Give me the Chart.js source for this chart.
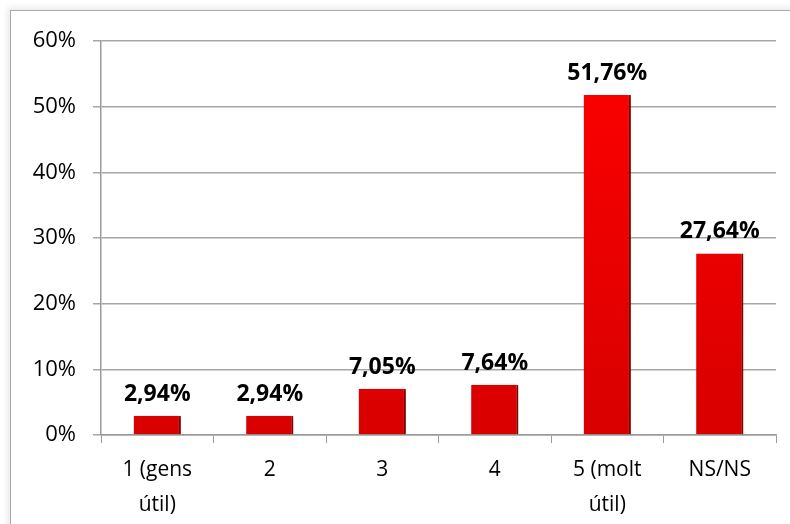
<!DOCTYPE html>
<html>
<head>
<meta charset="utf-8">
<script src="https://cdn.jsdelivr.net/npm/chart.js@4.4.1/dist/chart.umd.min.js"></script>
<style>
  html, body { margin: 0; padding: 0; background: #fff; }
  #wrap { position: relative; width: 790px; height: 524px; overflow: hidden; }
  #frame {
    position: absolute; left: 10px; top: 10px; width: 800px; height: 600px;
    border: 1.5px solid #a9a9a9; box-shadow: -3px -3px 6px rgba(0,0,0,0.08);
  }
  #c { position: absolute; left: 0; top: 0; }
</style>
</head>
<body>
<div id="wrap">
  <div id="frame"></div>
  <canvas id="c" width="790" height="524"></canvas>
</div>
<script>
// --- data ---
const categories = [['1 (gens', 'útil)'], '2', '3', '4', ['5 (molt', 'útil)'], 'NS/NS'];
const values = [2.94, 2.94, 7.05, 7.64, 51.76, 27.64];
const valueLabels = ['2,94%', '2,94%', '7,05%', '7,64%', '51,76%', '27,64%'];
const yTicks = [0, 10, 20, 30, 40, 50, 60];

const FONT = '"Open Sans", "DejaVu Sans", sans-serif';
Chart.defaults.color = '#000';

// soft drop shadow behind the bars
const barShadow = {
  id: 'barShadow',
  beforeDatasetsDraw(chart) {
    const ctx = chart.ctx;
    ctx.save();
    ctx.shadowColor = 'rgba(0,0,0,0.35)';
    ctx.shadowBlur = 4;
    ctx.shadowOffsetX = 2;
    ctx.shadowOffsetY = 2;
  },
  afterDatasetsDraw(chart) {
    chart.ctx.restore();
  }
};

// bold value labels above each bar
const valueText = {
  id: 'valueText',
  afterDatasetsDraw(chart) {
    const ctx = chart.ctx;
    const meta = chart.getDatasetMeta(0);
    ctx.save();
    ctx.font = 'bold 23px ' + FONT;
    ctx.fillStyle = '#000';
    ctx.textAlign = 'center';
    ctx.textBaseline = 'alphabetic';
    meta.data.forEach((bar, i) => {
      ctx.fillText(valueLabels[i], bar.x, bar.y - 15);
    });
    ctx.restore();
  }
};

function redFill(context) {
  const area = context.chart.chartArea;
  if (!area) return '#ee0000';
  const g = context.chart.ctx.createLinearGradient(0, area.top, 0, area.bottom);
  g.addColorStop(0, '#ff0000');
  g.addColorStop(1, '#d80000');
  return g;
}

new Chart(document.getElementById('c'), {
  type: 'bar',
  data: {
    labels: categories,
    datasets: [{
      data: values,
      backgroundColor: redFill,
      borderColor: '#a80000',
      borderWidth: { left: 0, right: 2, top: 0, bottom: 0 },
      borderSkipped: false,
      barPercentage: 0.42,
      categoryPercentage: 1
    }]
  },
  options: {
    responsive: false,
    animation: false,
    devicePixelRatio: 1,
    layout: { padding: { top: 41, right: 14, left: 0, bottom: 0 } },
    plugins: { legend: { display: false }, tooltip: { enabled: false } },
    scales: {
      x: {
        grid: { display: true, drawOnChartArea: false, drawTicks: true, tickLength: 8, color: '#9a9a9a', offset: true },
        border: { color: '#9a9a9a', width: 1.5 },
        ticks: { font: { family: FONT, size: 21, lineHeight: 1.65 }, padding: 10, maxRotation: 0, autoSkip: false },
        afterFit(scale) { scale.height = 89; }
      },
      y: {
        min: 0,
        max: 60,
        afterBuildTicks(scale) { scale.ticks = yTicks.map(v => ({ value: v })); },
        grid: { color: '#a6a6a6', lineWidth: 1.5, tickLength: 8 },
        border: { color: '#9a9a9a', width: 1.5 },
        ticks: {
          font: { family: FONT, size: 22 },
          padding: 17,
          callback: v => v + '%'
        },
        afterFit(scale) { scale.width = 101; }
      }
    }
  },
  plugins: [barShadow, valueText]
});
</script>
</body>
</html>
